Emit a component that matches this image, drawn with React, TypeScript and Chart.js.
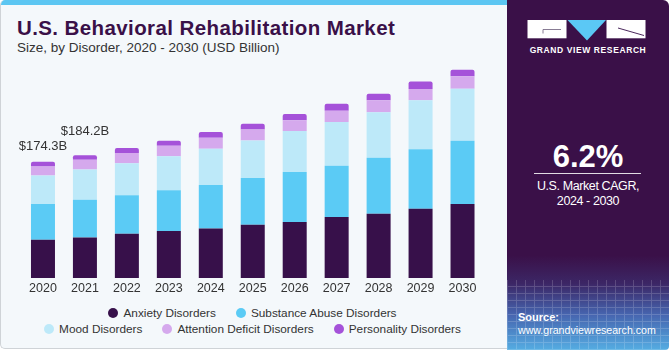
import React, { useEffect, useRef } from "react";
import { Chart, registerables } from "chart.js";

Chart.register(...registerables);

const years = ["2020", "2021", "2022", "2023", "2024", "2025", "2026", "2027", "2028", "2029", "2030"];
const anxiety = [57.4, 60.9, 66.5, 70.5, 74.4, 80.0, 84.0, 91.5, 96.5, 104.0, 111.0];
const substance = [53.5, 56.5, 57.5, 61.0, 65.0, 70.0, 75.0, 77.0, 84.0, 89.0, 95.0];
const mood = [42.9, 45.3, 48.0, 51.0, 54.5, 56.4, 61.5, 65.5, 68.0, 73.5, 78.0];
const adhd = [13.5, 14.5, 15.6, 16.0, 16.5, 16.5, 16.0, 17.0, 18.0, 17.0, 18.5];
const personality = [7.0, 7.0, 7.5, 7.5, 8.5, 8.5, 9.6, 10.5, 10.0, 11.4, 10.0];
const totalLabels = ["$174.3B", "$184.2B"];

const seriesNames = [
  "Anxiety Disorders",
  "Substance Abuse Disorders",
  "Mood Disorders",
  "Attention Deficit Disorders",
  "Personality Disorders",
];
const seriesColors = ["#37104a", "#5bcbf5", "#bde9f9", "#d5a9ed", "#a552d9"];

const FONT = '"Liberation Sans", Arial, sans-serif';

const totalLabelPlugin = {
  id: "totalLabels",
  afterDatasetsDraw(chart: any) {
    const ctx = chart.ctx;
    const xs = chart.scales.x;
    const ys = chart.scales.y;
    const lifts = [15, 24];
    ctx.save();
    ctx.font = `13px ${FONT}`;
    ctx.fillStyle = "#333333";
    ctx.textAlign = "center";
    ctx.textBaseline = "middle";
    totalLabels.forEach((label, i) => {
      const total = anxiety[i] + substance[i] + mood[i] + adhd[i] + personality[i];
      const x = xs.getPixelForValue(i);
      const y = ys.getPixelForValue(total) - lifts[i];
      ctx.fillText(label, x, y);
    });
    ctx.restore();
  },
};

function ChartCanvas() {
  const ref = useRef<HTMLCanvasElement | null>(null);
  useEffect(() => {
    if (!ref.current) return;
    const values = [anxiety, substance, mood, adhd, personality];
    const chart = new Chart(ref.current, {
      type: "bar",
      data: {
        labels: years,
        datasets: values.map((v, i) => ({
          label: seriesNames[i],
          data: v,
          backgroundColor: seriesColors[i],
          borderWidth: 0,
          borderRadius: i === 4 ? 2 : 0,
          categoryPercentage: 1,
          barPercentage: 0.572,
        })),
      },
      options: {
        animation: false,
        responsive: false,
        maintainAspectRatio: false,
        layout: { padding: { left: 22, right: 21.5, top: 58, bottom: 1 } },
        plugins: {
          legend: { display: false },
          tooltip: { enabled: false },
        },
        scales: {
          x: {
            stacked: true,
            grid: { display: false, drawTicks: false },
            border: { display: false },
            ticks: {
              color: "#333333",
              font: { family: FONT, size: 12.5 },
              padding: 3,
              maxRotation: 0,
            },
          },
          y: {
            stacked: true,
            display: false,
            min: 0,
            max: 330,
          },
        },
      },
      plugins: [totalLabelPlugin],
    });
    return () => chart.destroy();
  }, []);
  return (
    <canvas
      ref={ref}
      width={505}
      height={300}
      style={{ position: "absolute", left: 0, top: 0, width: 505, height: 300 }}
    />
  );
}

function Logo() {
  return (
    <svg width={120} height={22} viewBox="0 0 120 22" style={{ position: "absolute", left: 527, top: 19 }}>
      <rect x={0.5} y={1} width={39} height={18.3} fill="#ffffff" />
      <path d="M16 14.5 L16 10.5 L34 10.5" stroke="#6a5a78" strokeWidth={0.8} fill="none" />
      <polygon points="40.5,1 79,1 60,21.5" fill="#5bc8f5" />
      <rect x={79.5} y={1} width={39} height={18.3} fill="#ffffff" />
      <path d="M91 9 L117 16.5" stroke="#37104a" strokeWidth={0.9} fill="none" />
    </svg>
  );
}

export default function App() {
  const legendItem = (i: number) => (
    <div key={i} style={{ display: "flex", alignItems: "center", margin: "0 10px" }}>
      <span
        style={{
          width: 10,
          height: 10,
          borderRadius: 5,
          background: seriesColors[i],
          display: "inline-block",
          marginRight: 5,
        }}
      />
      <span>{seriesNames[i]}</span>
    </div>
  );
  const rowStyle: React.CSSProperties = {
    position: "absolute",
    left: 0,
    width: 505,
    height: 16,
    display: "flex",
    justifyContent: "center",
    alignItems: "center",
    fontSize: 11.8,
    lineHeight: "16px",
    color: "#333333",
    whiteSpace: "nowrap",
  };
  return (
    <div
      style={{
        position: "fixed",
        left: 0,
        top: 0,
        width: 670,
        height: 350,
        overflow: "hidden",
        fontFamily: FONT,
        background: "#ffffff",
      }}
    >
      <div
        style={{
          position: "absolute",
          left: 0,
          top: 0,
          width: 508,
          height: 349,
          background: "#f4f8fb",
          borderLeft: "1px solid #cfd3d7",
          borderBottom: "1px solid #cfd3d7",
          borderTopLeftRadius: 5,
          borderBottomLeftRadius: 5,
          boxSizing: "border-box",
          overflow: "hidden",
        }}
      >
        <div style={{ position: "absolute", left: 0, top: 0, width: 508, height: 5, background: "#5cc6f2" }} />
      </div>
      <div
        style={{
          position: "absolute",
          left: 17,
          top: 17.5,
          fontSize: 20.5,
          fontWeight: 700,
          lineHeight: 1,
          letterSpacing: 0.4,
          color: "#3a1048",
          whiteSpace: "nowrap",
        }}
      >
        U.S. Behavioral Rehabilitation Market
      </div>
      <div
        style={{
          position: "absolute",
          left: 17,
          top: 41.2,
          fontSize: 13.5,
          lineHeight: 1,
          color: "#333333",
          whiteSpace: "nowrap",
        }}
      >
        Size, by Disorder, 2020 - 2030 (USD Billion)
      </div>
      <ChartCanvas />
      <div style={{ ...rowStyle, top: 305 }}>{[0, 1].map(legendItem)}</div>
      <div style={{ ...rowStyle, top: 321 }}>{[2, 3, 4].map(legendItem)}</div>

      <div
        style={{
          position: "absolute",
          left: 507,
          top: 0,
          width: 162,
          height: 350,
          borderTopRightRadius: 6,
          borderBottomRightRadius: 4,
          overflow: "hidden",
          background:
            "linear-gradient(to bottom, #3a1048 0%, #3a1048 73%, #3c2766 81%, #4766b0 90%, #56ade2 100%)",
        }}
      >
        <div
          style={{
            position: "absolute",
            left: 0,
            bottom: 0,
            width: 162,
            height: 70,
            opacity: 0.18,
            backgroundImage:
              "repeating-linear-gradient(90deg, rgba(255,255,255,0.9) 0px, rgba(255,255,255,0.9) 1px, transparent 1px, transparent 9px), repeating-linear-gradient(0deg, rgba(255,255,255,0.9) 0px, rgba(255,255,255,0.9) 1px, transparent 1px, transparent 7px)",
          }}
        />
      </div>
      <Logo />
      <div
        style={{
          position: "absolute",
          left: 507,
          width: 162,
          top: 46.3,
          textAlign: "center",
          fontSize: 8.5,
          fontWeight: 700,
          letterSpacing: 0.6,
          lineHeight: 1,
          color: "#ffffff",
          whiteSpace: "nowrap",
        }}
      >
        GRAND VIEW RESEARCH
      </div>
      <div
        style={{
          position: "absolute",
          left: 507,
          width: 162,
          top: 140.5,
          textAlign: "center",
          fontSize: 31,
          fontWeight: 700,
          lineHeight: 1,
          color: "#ffffff",
        }}
      >
        6.2%
      </div>
      <div style={{ position: "absolute", left: 534, top: 173, width: 107, height: 1, background: "rgba(255,255,255,0.85)" }} />
      <div
        style={{
          position: "absolute",
          left: 507,
          width: 162,
          top: 180,
          textAlign: "center",
          fontSize: 12.5,
          letterSpacing: -0.4,
          lineHeight: 1,
          color: "#ffffff",
          whiteSpace: "nowrap",
        }}
      >
        U.S. Market CAGR,
      </div>
      <div
        style={{
          position: "absolute",
          left: 507,
          width: 162,
          top: 195,
          textAlign: "center",
          fontSize: 12.5,
          letterSpacing: -0.4,
          lineHeight: 1,
          color: "#ffffff",
          whiteSpace: "nowrap",
        }}
      >
        2024 - 2030
      </div>
      <div
        style={{
          position: "absolute",
          left: 518,
          top: 311.7,
          fontSize: 11,
          fontWeight: 700,
          lineHeight: 1,
          color: "#ffffff",
        }}
      >
        Source:
      </div>
      <div
        style={{
          position: "absolute",
          left: 518,
          top: 324.6,
          fontSize: 10.6,
          lineHeight: 1,
          color: "#ffffff",
          whiteSpace: "nowrap",
        }}
      >
        www.grandviewresearch.com
      </div>
    </div>
  );
}
